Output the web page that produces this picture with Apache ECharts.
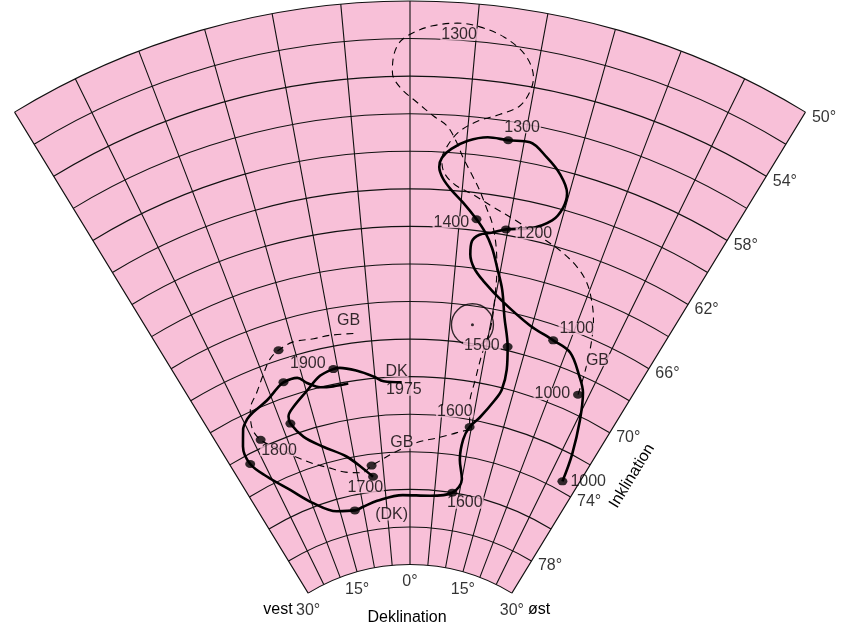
<!DOCTYPE html>
<html>
<head>
<meta charset="utf-8">
<script src="https://cdn.jsdelivr.net/npm/echarts@6/dist/echarts.min.js"></script>
<style>
html,body{margin:0;padding:0;background:#fff;}
#chart{width:845px;height:627px;}
</style>
</head>
<body>
<div id="chart"></div>
<script>
// ---- data: [inclination, declination] ----
const declTicks = [-30, -15, 0, 15, 30];
const inclTicks = [50, 54, 58, 62, 66, 70, 74, 78];
const inclGrid = [50, 52, 54, 56, 58, 60, 62, 64, 66, 68, 70, 72, 74, 76, 78, 80];

const dkMain = [
[73.5,27.4],[72.0,26.7],[70.2,25.4],[68.8,24.1],[68.1,22.8],[67.1,20.5],[66.8,18.0],[66.4,14.7],
[65.5,10.9],[64.6,8.3],[64.0,7.1],[63.3,6.5],[62.6,6.5],[62.2,7.2],[62.0,8.4],[61.7,9.8],
[61.4,12.1],[60.7,14.1],[59.9,14.8],[59.1,14.8],[58.2,13.7],[57.5,12.2],[56.9,10.5],[57.0,8.6],
[57.0,6.8],[57.3,5.1],[57.8,3.7],[58.3,2.9],[58.8,2.7],[59.4,3.1],[60.0,4.0],[60.6,5.2],
[61.4,6.7],[62.0,7.7],[62.8,8.7],[63.8,9.6],[64.9,10.6],[66.3,11.5],[67.8,12.7],[69.0,13.3],
[70.1,13.3],[70.7,12.7],[71.8,11.0],[72.4,9.7],[73.1,9.0],[74.2,9.0],[75.2,10.0],[76.0,8.6],
[76.3,4.1],[76.3,-1.5],[76.5,-6.9],[76.7,-10.0],[76.8,-11.9],[76.6,-15.7],[75.8,-19.7],[74.7,-22.8],
[73.5,-25.6],[72.5,-27.1],[71.5,-26.8],[70.7,-25.6],[70.3,-24.4],[70.1,-23.2],[69.8,-20.7],[69.4,-18.8],
[69.2,-17.7],[69.2,-15.7],[69.6,-14.6],[70.0,-12.9],[70.1,-11.1],[70.1,-8.9]
];
const dkRecent = [
[75.2,-7.1],[74.7,-8.7],[73.9,-11.3],[73.1,-14.8],[72.3,-17.4],[71.4,-18.7],[71.0,-18.6],[70.6,-17.4],
[70.0,-14.9],[69.4,-12.6],[69.2,-10.6],[69.2,-9.7],[69.5,-7.4],[69.9,-5.2],[70.2,-3.8],[70.3,-1.2]
];
const gbPath = [
[69.0,23.6],[67.8,23.2],[66.3,22.5],[65.0,21.6],[64.1,20.6],[63.3,19.4],[62.7,17.9],[62.2,16.0],
[61.8,13.9],[61.2,10.9],[60.6,8.0],[60.1,6.0],[59.7,4.3],[59.1,3.2],[58.4,2.9],[57.8,3.2],
[56.9,4.2],[56.2,5.8],[55.7,7.6],[55.1,9.1],[54.3,9.7],[53.5,9.8],[52.4,8.9],[51.6,7.1],
[51.2,5.2],[51.1,3.5],[51.3,1.7],[51.7,0.2],[52.2,-0.8],[53.0,-1.3],[53.8,-1.4],[54.6,-0.8],
[55.4,0.6],[56.1,2.0],[56.6,3.2],[57.4,4.1],[58.2,4.8],[59.1,5.8],[59.8,6.6],[60.7,7.5],
[61.6,8.4],[62.9,9.2],[63.9,9.6],[65.2,9.9],[66.9,10.1],[68.5,9.6],[69.9,9.3],[71.2,9.1],
[72.4,9.7],[72.8,7.8],[73.2,4.6],[73.5,1.2],[74.0,-2.7],[74.4,-5.5],[74.6,-7.1],[74.9,-9.1],
[74.7,-12.1],[74.3,-14.6],[73.8,-17.3],[73.2,-19.6],[72.4,-21.9],[71.6,-23.9],[70.8,-24.3],[69.9,-23.4],
[69.2,-21.6],[68.4,-19.8],[67.8,-18.4],[67.5,-17.0],[67.3,-15.0],[67.4,-12.3],[67.4,-10.2],[67.5,-7.2]
];
const dkDots = [[73.5,27.4],[66.8,18.0],[61.7,9.8],[57.0,8.6],[61.4,6.7],[67.8,12.7],[72.4,9.7],
[76.0,8.6],[76.8,-11.9],[72.5,-27.1],[69.2,-17.7],[75.2,-7.1],[71.4,-18.7],[69.2,-10.6]];
const gbDots = [[69.0,23.6],[74.6,-7.1],[71.6,-23.9],[67.5,-17.0]];
const alpha95Center = [67.0, 7.8];

const annTexts = ['1300','1300','1400','1200','1100','1500','GB','1000','1600','1600','(DK)','1700','GB','1800','1900','DK','1975','GB'];
const annAt = [[51.7,3.7],[56.2,9.6],[61.7,4.2],[61.6,12.7],[65.8,20.2],[68.0,9.4],[66.9,24.0],[69.5,20.3],
[71.7,7.0],[76.4,11.5],[77.3,-4.1],[75.7,-8.9],[73.5,-1.4],[72.5,-21.9],[68.6,-13.8],[69.7,-1.9],[70.7,-0.9],[66.8,-7.6]];
const firstDkLabel = '1000';

// ---- chart ----
const PINK = '#f8c0d8';
const INK = '#000';
const FONT = 'Liberation Sans, Arial, sans-serif';
const chart = echarts.init(document.getElementById('chart'), null, {renderer:'canvas'});

const annData = annTexts.map((t, i) => ({value: annAt[i], name: t}));
const dkDotData = dkDots.map((p, i) => i === 0
  ? {value: p, label: {show: true, formatter: firstDkLabel, position: 'right', distance: 3,
      color: INK, fontSize: 16, fontFamily: FONT}}
  : {value: p});

const DMIN = declTicks[0], DMAX = declTicks[declTicks.length - 1];

function renderArc(params, api) {
  const incl = api.value(0);
  const cs = params.coordSys;
  const pL = api.coord([incl, DMIN]);
  const pR = api.coord([incl, DMAX]);
  const cx = cs.cx, cy = cs.cy;
  const r = Math.hypot(pL[0] - cx, pL[1] - cy);
  const a0 = Math.atan2(pL[1] - cy, pL[0] - cx);
  const a1 = Math.atan2(pR[1] - cy, pR[0] - cx);
  return {type: 'arc', shape: {cx: cx, cy: cy, r: r, startAngle: a0, endAngle: a1, clockwise: true},
          style: {stroke: '#111', lineWidth: 1.1, fill: null}};
}

function renderFan(params, api) {
  const cs = params.coordSys;
  const pIL = api.coord([inclGrid[inclGrid.length - 1], DMIN]);
  const pIR = api.coord([inclGrid[inclGrid.length - 1], DMAX]);
  const pO = api.coord([inclGrid[0], DMIN]);
  const cx = cs.cx, cy = cs.cy;
  const r0 = Math.hypot(pIL[0] - cx, pIL[1] - cy);
  const r = Math.hypot(pO[0] - cx, pO[1] - cy);
  const a0 = Math.atan2(pIL[1] - cy, pIL[0] - cx);
  const a1 = Math.atan2(pIR[1] - cy, pIR[0] - cx);
  return {type: 'sector', shape: {cx: cx, cy: cy, r0: r0, r: r, startAngle: a0, endAngle: a1, clockwise: true},
          style: {fill: PINK}};
}

chart.setOption({
  animation: false,
  backgroundColor: '#fff',
  polar: {center: [410, 760], radius: [195.5, 759]},
  angleAxis: {
    type: 'value', min: DMIN, max: DMAX, interval: 5,
    startAngle: 121.4, endAngle: 58.6, clockwise: true,
    axisLine: {show: false},
    axisTick: {show: false}, axisLabel: {show: false},
    splitLine: {show: true, lineStyle: {color: '#111', width: 1.1}},
    z: 2
  },
  radiusAxis: {
    type: 'value', min: 50, max: 80, interval: 2, inverse: true,
    axisLine: {show: false}, axisTick: {show: false}, axisLabel: {show: false},
    splitLine: {show: false}, splitArea: {show: false}
  },
  series: [
    {type: 'custom', coordinateSystem: 'polar', data: [[65, 0]], renderItem: renderFan, z: -5, silent: true},
    {type: 'custom', coordinateSystem: 'polar', data: inclGrid.map(v => [v, 0]), renderItem: renderArc, z: 1, silent: true},
    {type: 'line', coordinateSystem: 'polar', data: gbPath, smooth: 0.35, symbol: 'none',
     lineStyle: {color: '#000', width: 1.1, type: [7, 5]}, z: 3},
    {type: 'line', coordinateSystem: 'polar', data: dkMain, smooth: 0.35, symbol: 'none',
     lineStyle: {color: '#000', width: 2.6}, z: 4},
    {type: 'line', coordinateSystem: 'polar', data: dkRecent, smooth: 0.35, symbol: 'none',
     lineStyle: {color: '#000', width: 2.6}, z: 4},
    {type: 'scatter', coordinateSystem: 'polar', data: [alpha95Center], symbol: 'circle', symbolSize: 42,
     itemStyle: {color: 'rgba(0,0,0,0)', borderColor: '#000', borderWidth: 1.4}, z: 4},
    {type: 'scatter', coordinateSystem: 'polar', data: [alpha95Center], symbolSize: 3,
     itemStyle: {color: '#000'}, z: 4},
    {type: 'scatter', coordinateSystem: 'polar', data: dkDotData.concat(gbDots), symbol: 'circle', symbolSize: [10, 8],
     itemStyle: {color: '#000'}, z: 6},
    {type: 'scatter', coordinateSystem: 'polar', data: annData, symbolSize: 1,
     itemStyle: {color: 'rgba(0,0,0,0)'}, z: 8,
     label: {show: true, position: 'inside', formatter: p => p.name, color: INK, fontSize: 16,
       fontFamily: FONT, backgroundColor: PINK, lineHeight: 12, padding: [0, 1]}},
    {type: 'scatter', coordinateSystem: 'polar', data: declTicks.map(d => [80, d]), symbolSize: 1,
     itemStyle: {color: 'rgba(0,0,0,0)'}, z: 8,
     label: {show: true, position: 'bottom', distance: 9, formatter: p => Math.abs(p.value[1]) + '°',
       color: INK, fontSize: 16, fontFamily: FONT}},
    {type: 'scatter', coordinateSystem: 'polar', data: inclTicks.map(v => [v, DMAX]), symbolSize: 1,
     itemStyle: {color: 'rgba(0,0,0,0)'}, z: 8,
     label: {show: true, position: 'right', distance: 6, offset: [0, 5], formatter: p => p.value[0] + '°',
       color: INK, fontSize: 16, fontFamily: FONT}}
  ],
  graphic: [
    {type: 'text', x: 278, y: 610, style: {text: 'vest', fill: INK, fontSize: 16, fontFamily: FONT, align: 'center', verticalAlign: 'middle'}},
    {type: 'text', x: 539, y: 610, style: {text: 'øst', fill: INK, fontSize: 16, fontFamily: FONT, align: 'center', verticalAlign: 'middle'}},
    {type: 'text', x: 407, y: 618, style: {text: 'Deklination', fill: INK, fontSize: 16, fontFamily: FONT, align: 'center', verticalAlign: 'middle'}},
    {type: 'text', x: 632, y: 476, rotation: 58.6 * Math.PI / 180,
     style: {text: 'Inklination', fill: INK, fontSize: 16, fontFamily: FONT, align: 'center', verticalAlign: 'middle'}}
  ]
});
</script>
</body>
</html>
